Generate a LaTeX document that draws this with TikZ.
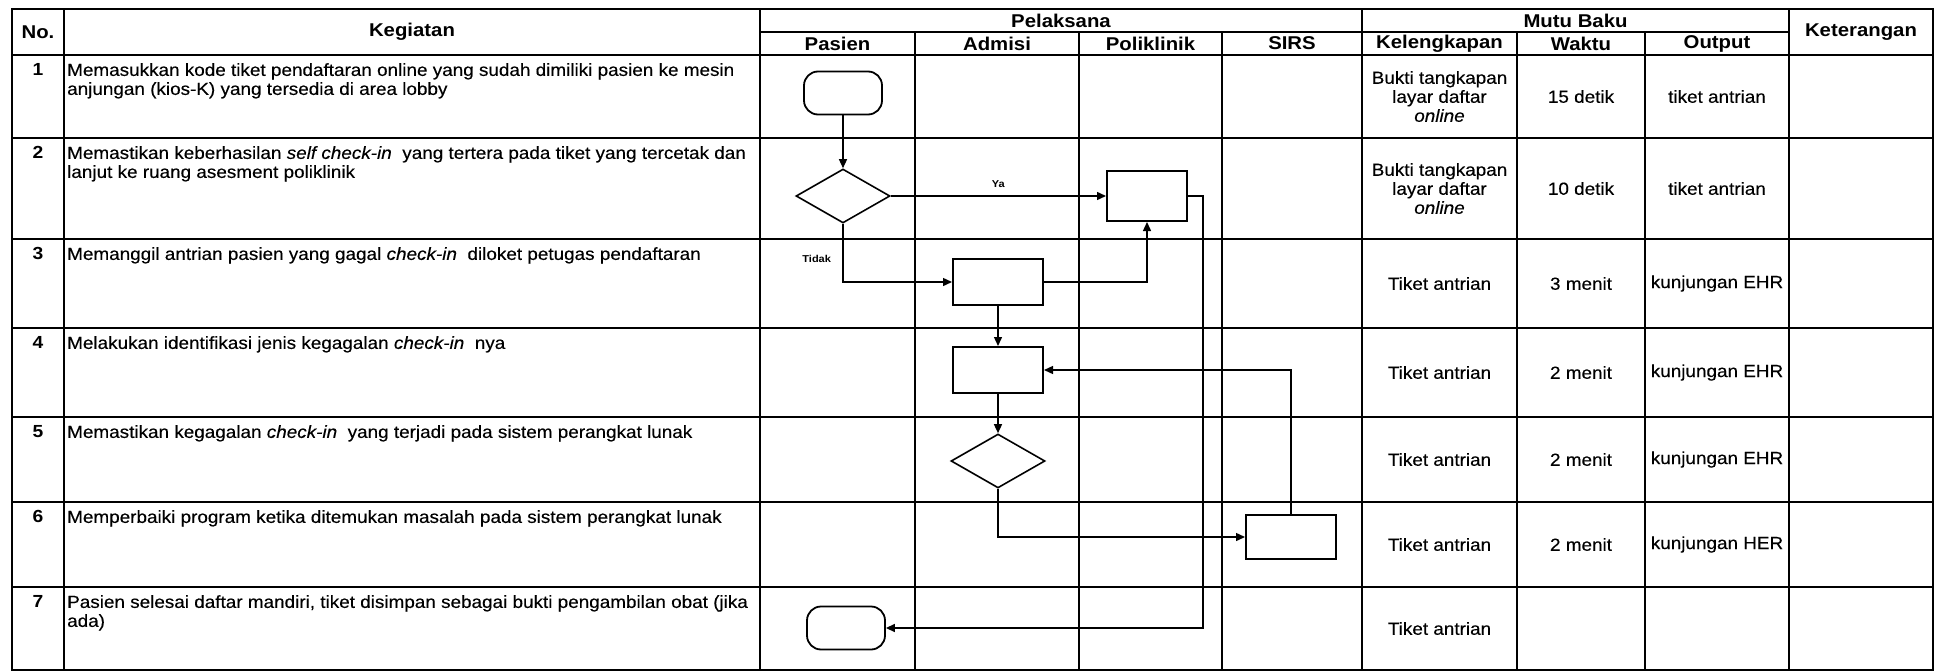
\documentclass[tikz,border=0pt]{standalone}
\usepackage{fontspec}
\setmainfont{Liberation Sans}[FakeStretch=1.1]
\newfontfamily\bodyfont{Liberation Sans}[FakeStretch=1.08, FakeBold=0.3]
\usetikzlibrary{shapes.geometric,arrows.meta}

\tikzset{
  tabline/.style={line width=2.2pt},
  head/.style={font=\fontsize{18.5}{20}\selectfont\bfseries},
  txt/.style={font=\bodyfont\fontsize{17.5}{19}\selectfont, inner sep=0pt},
  num/.style={font=\fontsize{17.5}{19}\selectfont\bfseries, inner sep=0pt},
  lbl/.style={font=\fontsize{10}{12}\selectfont\bfseries},
  flowbox/.style={draw, line width=2pt, minimum width=90pt, minimum height=46pt, inner sep=0pt},
  decision/.style={draw, diamond, line width=1.6pt, minimum width=94pt, minimum height=54pt, inner sep=0pt},
  terminal/.style={draw, rounded corners=14pt, line width=1.8pt, minimum width=78pt, minimum height=43pt, inner sep=0pt},
  arr/.style={-{Triangle[length=9pt,width=8pt]}, line width=1.4pt},
}

\begin{document}
\begin{tikzpicture}[x=1pt, y=-1pt]
\useasboundingbox (0,0) rectangle (1935,671);
% table
\draw[tabline] (12,9) rectangle (1933,670);
\draw[tabline] (760,32) -- (1789,32);
\foreach \y in {55,138,239,328,417,502,587} \draw[tabline] (12,\y) -- (1933,\y);
\foreach \x in {64,760,1362,1789} \draw[tabline] (\x,9) -- (\x,670);
\foreach \x in {915,1079,1222,1517,1645} \draw[tabline] (\x,32) -- (\x,670);

% header
\node[head] (no) at (38,32) {No.};
\node[head] (keg) at (412,32) {Kegiatan};
\node[head] (pel) at (1061,20.5) {Pelaksana};
\node[head] (pas) at (837.5,43.5) {Pasien};
\node[head] (adm) at (997,43.5) {Admisi};
\node[head] (pol) at (1150.5,43.5) {Poliklinik};
\node[head] (sir) at (1292,43.5) {SIRS};
\node[head] (mutu) at (1575.5,20.5) {Mutu Baku};
\node[head] (kel) at (1439.5,43.5) {Kelengkapan};
\node[head] (wak) at (1581,43.5) {Waktu};
\node[head] (out) at (1717,43.5) {Output};
\node[head] (ket) at (1861,32) {Keterangan};

% kegiatan
\node[num, anchor=north] (n1) at (38,63) {1};
\node[txt, anchor=north west, align=left] (k1) at (67,63) {Memasukkan kode tiket pendaftaran online yang sudah dimiliki pasien ke mesin\\anjungan (kios-K) yang tersedia di area lobby};
\node[num, anchor=north] (n2) at (38,146) {2};
\node[txt, anchor=north west, align=left] (k2) at (67,146) {Memastikan keberhasilan \textit{self check-in}\ \ yang tertera pada tiket yang tercetak dan\\lanjut ke ruang asesment poliklinik};
\node[num, anchor=north] (n3) at (38,247) {3};
\node[txt, anchor=north west, align=left] (k3) at (67,247) {Memanggil antrian pasien yang gagal \textit{check-in}\ \ diloket petugas pendaftaran};
\node[num, anchor=north] (n4) at (38,336) {4};
\node[txt, anchor=north west, align=left] (k4) at (67,336) {Melakukan identifikasi jenis kegagalan \textit{check-in}\ \ nya};
\node[num, anchor=north] (n5) at (38,425) {5};
\node[txt, anchor=north west, align=left] (k5) at (67,425) {Memastikan kegagalan \textit{check-in}\ \ yang terjadi pada sistem perangkat lunak};
\node[num, anchor=north] (n6) at (38,510) {6};
\node[txt, anchor=north west, align=left] (k6) at (67,510) {Memperbaiki program ketika ditemukan masalah pada sistem perangkat lunak};
\node[num, anchor=north] (n7) at (38,595) {7};
\node[txt, anchor=north west, align=left] (k7) at (67,595) {Pasien selesai daftar mandiri, tiket disimpan sebagai bukti pengambilan obat (jika\\ada)};

% mutu baku
\node[txt, align=center] (kl1) at (1439.5,96.5) {Bukti tangkapan\\layar daftar\\\textit{online}};
\node[txt] (wk1) at (1581,96.5) {15 detik};
\node[txt] (op1) at (1717,96.5) {tiket antrian};
\node[txt, align=center] (kl2) at (1439.5,188.5) {Bukti tangkapan\\layar daftar\\\textit{online}};
\node[txt] (wk2) at (1581,188.5) {10 detik};
\node[txt] (op2) at (1717,188.5) {tiket antrian};
\node[txt] (kl3) at (1439.5,283.5) {Tiket antrian};
\node[txt] (wk3) at (1581,283.5) {3 menit};
\node[txt] (op3) at (1717,283.5) {kunjungan EHR};
\node[txt] (kl4) at (1439.5,372.5) {Tiket antrian};
\node[txt] (wk4) at (1581,372.5) {2 menit};
\node[txt] (op4) at (1717,372.5) {kunjungan EHR};
\node[txt] (kl5) at (1439.5,459.5) {Tiket antrian};
\node[txt] (wk5) at (1581,459.5) {2 menit};
\node[txt] (op5) at (1717,459.5) {kunjungan EHR};
\node[txt] (kl6) at (1439.5,544.5) {Tiket antrian};
\node[txt] (wk6) at (1581,544.5) {2 menit};
\node[txt] (op6) at (1717,544.5) {kunjungan HER};
\node[txt] (kl7) at (1439.5,628.5) {Tiket antrian};

% flow
\node[terminal] (t1) at (843,93) {};
\node[decision] (d1) at (843,196) {};
\node[flowbox, minimum width=80pt, minimum height=50pt] (poli) at (1147,196) {};
\node[flowbox] (b1) at (998,282) {};
\node[flowbox] (b2) at (998,370) {};
\node[decision] (d2) at (998,461) {};
\node[flowbox, minimum height=44pt] (sirs) at (1291,537) {};
\node[terminal] (t2) at (846,628) {};

\draw[arr] (t1) -- (d1);
\draw[arr] (d1) -- (poli) node[lbl, midway, above=4pt] (ya) {Ya};
\draw[arr] (d1.south) |- (b1.west) node[lbl, pos=0.3, left=8pt] (tidak) {Tidak};
\draw[arr] (b1.east) -| (poli.south);
\draw[arr] (poli.east) -- ++(15,0) |- (t2.east);
\draw[arr] (b1) -- (b2);
\draw[arr] (b2) -- (d2);
\draw[arr] (d2.south) |- (sirs.west);
\draw[arr] (sirs.north) |- (b2.east);
\end{tikzpicture}
\end{document}
